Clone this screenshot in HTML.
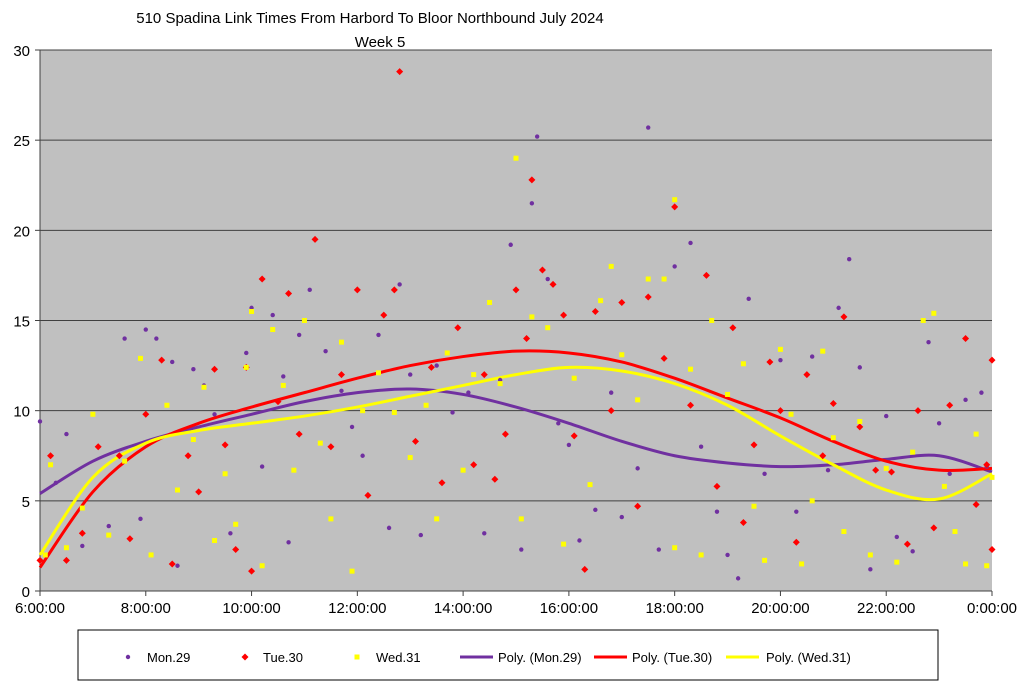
<!DOCTYPE html>
<html><head><meta charset="utf-8"><style>
html,body{margin:0;padding:0;background:#fff;}
svg{display:block;font-family:"Liberation Sans",sans-serif;}
</style></head><body>
<svg id="chart" width="1024" height="688" viewBox="0 0 1024 688">
<text x="370" y="23" font-size="15" text-anchor="middle">510 Spadina Link Times From Harbord To Bloor Northbound July 2024</text>
<text x="380" y="47" font-size="15" text-anchor="middle">Week 5</text>
<rect x="40" y="50" width="952" height="541" fill="#c0c0c0"/>
<g id="grid"></g><g id="axes"></g><g id="trends"></g><g id="points"></g>
<rect x="78" y="630" width="860" height="50" fill="#fff" stroke="#000" stroke-width="1"/>
<g id="legend"></g>
</svg>
<script>
const yTicks=[0,5,10,15,20,25,30];
const xTickLabels=["6:00:00","8:00:00","10:00:00","12:00:00","14:00:00","16:00:00","18:00:00","20:00:00","22:00:00","0:00:00"];
const trendHours=[6,7,8,9,10,11,12,13,14,15,16,17,18,19,20,21,22,23,24];
const monTrend=[5.4,7.2,8.3,9.1,9.8,10.5,11.0,11.2,10.9,10.2,9.3,8.3,7.5,7.1,6.9,7.0,7.3,7.5,6.6];
const tueTrend=[1.3,5.5,8.0,9.3,10.2,11.0,11.8,12.5,13.0,13.3,13.2,12.7,11.8,10.7,9.6,8.3,7.2,6.7,6.8];
const wedTrend=[2.0,6.3,8.2,8.9,9.3,9.7,10.2,10.8,11.4,12.0,12.4,12.2,11.5,10.3,8.6,7.0,5.6,5.1,6.5];
const monPts=[[6.0,9.4],[6.3,6.0],[6.5,8.7],[6.8,2.5],[7.3,3.6],[7.6,14.0],[7.9,4.0],[8.0,14.5],[8.2,14.0],[8.1,2.0],[8.5,12.7],[8.6,1.4],[8.9,12.3],[9.1,11.4],[9.3,9.8],[9.6,3.2],[9.9,13.2],[10.0,15.7],[10.2,6.9],[10.4,15.3],[10.6,11.9],[10.7,2.7],[10.9,14.2],[11.1,16.7],[11.4,13.3],[11.7,11.1],[11.9,9.1],[12.1,7.5],[12.4,14.2],[12.6,3.5],[12.8,17.0],[13.0,12.0],[13.2,3.1],[13.5,12.5],[13.8,9.9],[14.1,11.0],[14.4,3.2],[14.7,11.7],[14.9,19.2],[15.1,2.3],[15.3,21.5],[15.4,25.2],[15.6,17.3],[15.8,9.3],[16.0,8.1],[16.2,2.8],[16.5,4.5],[16.8,11.0],[17.0,4.1],[17.3,6.8],[17.5,25.7],[17.7,2.3],[18.0,18.0],[18.3,19.3],[18.5,8.0],[18.8,4.4],[19.0,2.0],[19.2,0.7],[19.4,16.2],[19.7,6.5],[20.0,12.8],[20.3,4.4],[20.6,13.0],[20.9,6.7],[21.1,15.7],[21.3,18.4],[21.5,12.4],[21.7,1.2],[22.0,9.7],[22.2,3.0],[22.5,2.2],[22.8,13.8],[23.0,9.3],[23.2,6.5],[23.5,10.6],[23.8,11.0],[23.9,6.9]];
const tuePts=[[6.0,1.7],[6.2,7.5],[6.5,1.7],[6.8,3.2],[7.1,8.0],[7.5,7.5],[7.7,2.9],[8.0,9.8],[8.3,12.8],[8.5,1.5],[8.8,7.5],[9.0,5.5],[9.3,12.3],[9.5,8.1],[9.7,2.3],[9.9,12.4],[10.0,1.1],[10.2,17.3],[10.5,10.5],[10.7,16.5],[10.9,8.7],[11.2,19.5],[11.5,8.0],[11.7,12.0],[12.0,16.7],[12.2,5.3],[12.5,15.3],[12.7,16.7],[12.8,28.8],[13.1,8.3],[13.4,12.4],[13.6,6.0],[13.9,14.6],[14.2,7.0],[14.4,12.0],[14.6,6.2],[14.8,8.7],[15.0,16.7],[15.2,14.0],[15.3,22.8],[15.5,17.8],[15.7,17.0],[15.9,15.3],[16.1,8.6],[16.3,1.2],[16.5,15.5],[16.8,10.0],[17.0,16.0],[17.3,4.7],[17.5,16.3],[17.8,12.9],[18.0,21.3],[18.3,10.3],[18.6,17.5],[18.8,5.8],[19.1,14.6],[19.3,3.8],[19.5,8.1],[19.8,12.7],[20.0,10.0],[20.3,2.7],[20.5,12.0],[20.8,7.5],[21.0,10.4],[21.2,15.2],[21.5,9.1],[21.8,6.7],[22.1,6.6],[22.4,2.6],[22.6,10.0],[22.9,3.5],[23.2,10.3],[23.5,14.0],[23.7,4.8],[23.9,7.0],[24.0,12.8],[24.0,2.3]];
const wedPts=[[6.1,2.0],[6.2,7.0],[6.5,2.4],[6.8,4.6],[7.0,9.8],[7.3,3.1],[7.6,7.2],[7.9,12.9],[8.1,2.0],[8.4,10.3],[8.6,5.6],[8.9,8.4],[9.1,11.3],[9.3,2.8],[9.5,6.5],[9.7,3.7],[9.9,12.4],[10.0,15.5],[10.2,1.4],[10.4,14.5],[10.6,11.4],[10.8,6.7],[11.0,15.0],[11.3,8.2],[11.5,4.0],[11.7,13.8],[11.9,1.1],[12.1,10.0],[12.4,12.1],[12.7,9.9],[13.0,7.4],[13.3,10.3],[13.5,4.0],[13.7,13.2],[14.0,6.7],[14.2,12.0],[14.5,16.0],[14.7,11.5],[15.0,24.0],[15.1,4.0],[15.3,15.2],[15.6,14.6],[15.9,2.6],[16.1,11.8],[16.4,5.9],[16.6,16.1],[16.8,18.0],[17.0,13.1],[17.3,10.6],[17.5,17.3],[17.8,17.3],[18.0,21.7],[18.0,2.4],[18.3,12.3],[18.5,2.0],[18.7,15.0],[19.0,10.9],[19.3,12.6],[19.5,4.7],[19.7,1.7],[20.0,13.4],[20.2,9.8],[20.4,1.5],[20.6,5.0],[20.8,13.3],[21.0,8.5],[21.2,3.3],[21.5,9.4],[21.7,2.0],[22.0,6.8],[22.2,1.6],[22.5,7.7],[22.7,15.0],[22.9,15.4],[23.1,5.8],[23.3,3.3],[23.5,1.5],[23.7,8.7],[23.9,1.4],[24.0,6.3]];

const NS="http://www.w3.org/2000/svg";
const X0=40,X1=992,Y0=591,Y1=50;
const xs=h=>X0+(h-6)/18*(X1-X0);
const ys=v=>Y0-v/30*(Y0-Y1);
function mk(tag,attrs,parent){const e=document.createElementNS(NS,tag);for(const k in attrs)e.setAttribute(k,attrs[k]);parent.appendChild(e);return e;}
const grid=document.getElementById('grid'),axes=document.getElementById('axes');
yTicks.forEach(t=>{
  if(t>0){const l=mk('line',{x1:X0,x2:X1,y1:ys(t),y2:ys(t),stroke:'#404040','stroke-width':1},grid);
  
  }
  const tx=mk('text',{x:30,y:ys(t)+6,'font-size':15,'text-anchor':'end'},axes);tx.textContent=t;
  
  
  const tk=mk('line',{x1:X0-5,x2:X0,y1:ys(t),y2:ys(t),stroke:'#404040'},axes);
  
  
});
xTickLabels.forEach((s,i)=>{
  const h=6+i*2;
  const tx=mk('text',{x:xs(h),y:613,'font-size':15,'text-anchor':'middle'},axes);tx.textContent=s;
  
  
  const tk=mk('line',{x1:xs(h),x2:xs(h),y1:Y0,y2:Y0+5,stroke:'#404040'},axes);
  
  
});
const ax=mk('path',{d:`M${X0},${Y1}V${Y0}H${X1}`,fill:'none',stroke:'#404040'},axes);



const pts=document.getElementById('points');
function marker(kind,cx,cy,parent){
  if(kind==='dot')return mk('circle',{cx,cy,r:2.2,fill:'#7030a0'},parent);
  if(kind==='dia')return mk('path',{d:`M${cx},${cy-3.5}L${cx+3.5},${cy}L${cx},${cy+3.5}L${cx-3.5},${cy}Z`,fill:'#ff0000'},parent);
  return mk('rect',{x:cx-2.5,y:cy-2.5,width:5,height:5,fill:'#ffff00'},parent);
}
[[monPts,'dot','mon'],[tuePts,'dia','tue'],[wedPts,'sq','wed']].forEach(([arr,k,n])=>{
  arr.forEach(p=>{const m=marker(k,xs(p[0]),ys(p[1]),pts);
    
    });
});
const tr=document.getElementById('trends');
function smooth(vals){
  const P=trendHours.map((h,i)=>[xs(h),ys(vals[i])]);
  let d=`M${P[0][0]},${P[0][1]}`;
  for(let i=0;i<P.length-1;i++){
    const p0=P[Math.max(0,i-1)],p1=P[i],p2=P[i+1],p3=P[Math.min(P.length-1,i+2)];
    d+=`C${p1[0]+(p2[0]-p0[0])/6},${p1[1]+(p2[1]-p0[1])/6} ${p2[0]-(p3[0]-p1[0])/6},${p2[1]-(p3[1]-p1[1])/6} ${p2[0]},${p2[1]}`;
  }
  return d;
}
[[monTrend,'#7030a0','mon'],[tueTrend,'#ff0000','tue'],[wedTrend,'#ffff00','wed']].forEach(([v,c,n])=>{
  const p=mk('path',{d:smooth(v),fill:'none',stroke:c,'stroke-width':3},tr);
  
  
});
const lg=document.getElementById('legend');const LY=657;
const items=[['dot',128,147,'Mon.29'],['dia',245,263,'Tue.30'],['sq',357,376,'Wed.31']];
items.forEach(([k,mx,tx,s])=>{
  const m=marker(k,mx,LY,lg);
  
  
  const t=mk('text',{x:tx,y:LY+5,'font-size':13},lg);t.textContent=s;
  
  
});
[['#7030a0',460,498,'Poly. (Mon.29)'],['#ff0000',594,632,'Poly. (Tue.30)'],['#ffff00',726,766,'Poly. (Wed.31)']].forEach(([c,lx,tx,s])=>{
  const l=mk('line',{x1:lx,x2:lx+33,y1:LY,y2:LY,stroke:c,'stroke-width':3},lg);
  
  
  const t=mk('text',{x:tx,y:LY+5,'font-size':13},lg);t.textContent=s;
  
  
});
</script>
</body></html>
